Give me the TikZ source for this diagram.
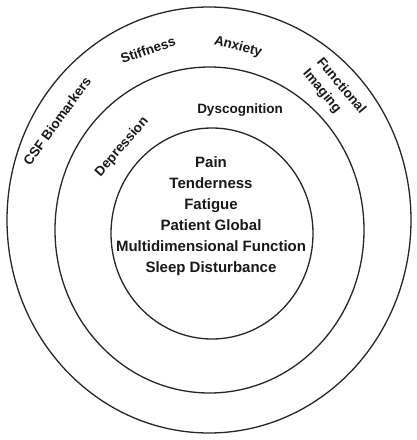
\documentclass[tikz,border=0pt]{standalone}
\usepackage{fontspec}
\setmainfont{Liberation Sans}
\begin{document}
\begin{tikzpicture}[x=1pt,y=-1pt,
  ring/.style={draw=black!85, line width=1.3pt},
  ringlabel/.style={font=\bfseries\fontsize{13.5}{18}\selectfont, inner sep=0pt, text=black!90},
  corelabel/.style={font=\bfseries\fontsize{15}{21}\selectfont, align=center, inner sep=0pt, text=black!90}]
\useasboundingbox (0,0) rectangle (416,440);
\fill[white] (0,0) rectangle (416,440);
\coordinate (co) at (209,220);
\coordinate (cm) at (209.5,230);
\coordinate (ci) at (212,233.5);
\draw[ring] (co) ellipse [x radius=202, y radius=213];
\draw[ring] (cm) ellipse [x radius=154.5, y radius=163];
\draw[ring] (ci) ellipse [x radius=101, y radius=105.5];
\node[corelabel] (core) at (211,216) {Pain\\Tenderness\\Fatigue\\Patient Global\\Multidimensional Function\\Sleep Disturbance};
\node[ringlabel, rotate=54] (csf) at (57,121) {CSF Biomarkers};
\node[ringlabel, rotate=19] (stiff) at (148,50) {Stiffness};
\node[ringlabel, rotate=-15] (anx) at (238,47) {Anxiety};
\node[ringlabel, rotate=-50, align=left] (func) at (334,92) {Functional\\Imaging};
\node[ringlabel] (dysc) at (240,110) {Dyscognition};
\node[ringlabel, rotate=49] (depr) at (122,147) {Depression};
\end{tikzpicture}
\end{document}
